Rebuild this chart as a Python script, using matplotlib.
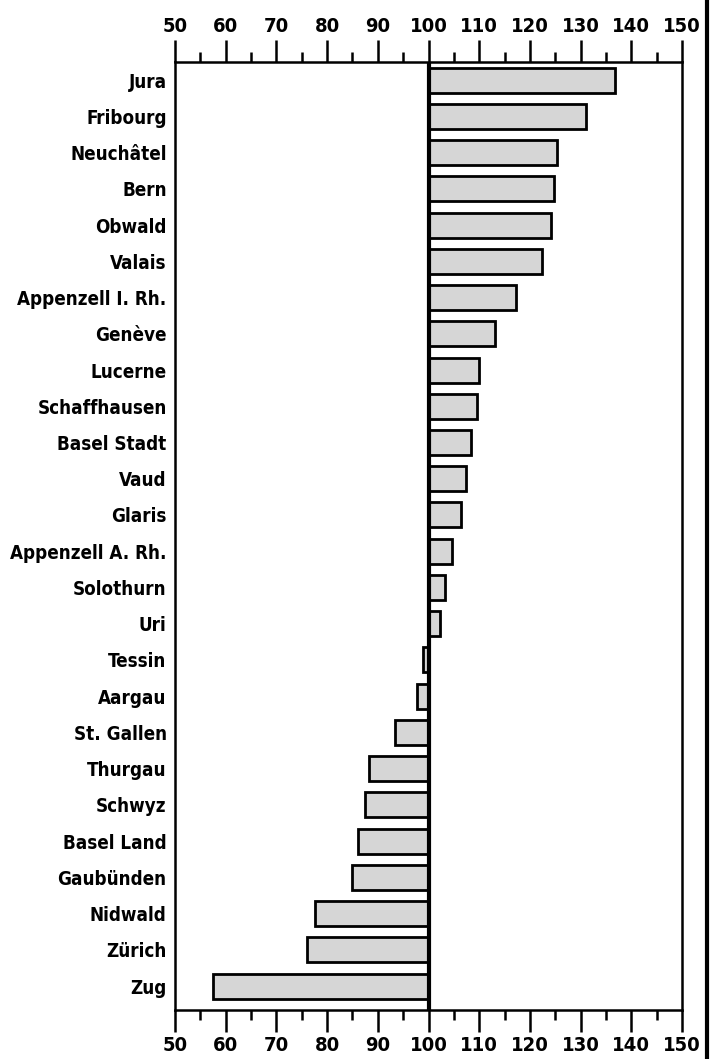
import matplotlib
matplotlib.use("Agg")
import matplotlib.pyplot as plt
from matplotlib.lines import Line2D
from matplotlib.ticker import MultipleLocator

cantons = ["Jura", "Fribourg", "Neuchâtel", "Bern", "Obwald", "Valais",
           "Appenzell I. Rh.", "Genève", "Lucerne", "Schaffhausen",
           "Basel Stadt", "Vaud", "Glaris", "Appenzell A. Rh.", "Solothurn",
           "Uri", "Tessin", "Aargau", "St. Gallen", "Thurgau", "Schwyz",
           "Basel Land", "Gaubünden", "Nidwald", "Zürich", "Zug"]
values = [136.8, 131.0, 125.3, 124.7, 124.1, 122.4, 117.2, 113.2, 109.9,
          109.5, 108.3, 107.3, 106.5, 104.7, 103.2, 102.2, 99.0, 97.8,
          93.3, 88.3, 87.5, 86.0, 85.0, 77.7, 76.1, 57.5]
ticks = [50, 60, 70, 80, 90, 100, 110, 120, 130, 140, 150]
baseline = 100

plt.rcParams['font.family'] = ['DejaVu Sans']
plt.rcParams['font.stretch'] = 'condensed'

fig = plt.figure(figsize=(7.15, 10.59), dpi=100)
ax = fig.add_axes([175/715, 1 - 1010/1059, (682-175)/715, (1010-62)/1059])

ypos = list(range(len(cantons)))
widths = [v - baseline for v in values]
ax.barh(ypos, widths, left=baseline, height=0.69, color='#d6d6d6',
        edgecolor='black', linewidth=2.0, zorder=2)
ax.axvline(baseline, color='black', linewidth=3, zorder=3)

ax.set_xlim(50, 150)
ax.set_ylim(len(cantons) - 1 + 0.66, -0.5)
ax.set_yticks(ypos)
ax.set_yticklabels(cantons, fontsize=13.5, fontweight='bold', fontstretch='condensed')
ax.tick_params(axis='y', length=0, pad=6)

ax.xaxis.set_minor_locator(MultipleLocator(5))
ax.set_xticks(ticks)
ax.set_xticklabels([str(t) for t in ticks], fontsize=14.5, fontweight='bold',
                   fontstretch='condensed')
ax.tick_params(axis='x', which='major', direction='out', length=16, width=1.8,
               top=True, labeltop=True, bottom=True, labelbottom=True, pad=3)
ax.tick_params(axis='x', which='minor', direction='out', length=7, width=1.8,
               top=True, bottom=True)
for s in ax.spines.values():
    s.set_linewidth(1.8)

fig.add_artist(Line2D([707/715, 707/715], [0, 1], transform=fig.transFigure,
                      color='black', linewidth=3))

fig.savefig("out.png", dpi=100)
